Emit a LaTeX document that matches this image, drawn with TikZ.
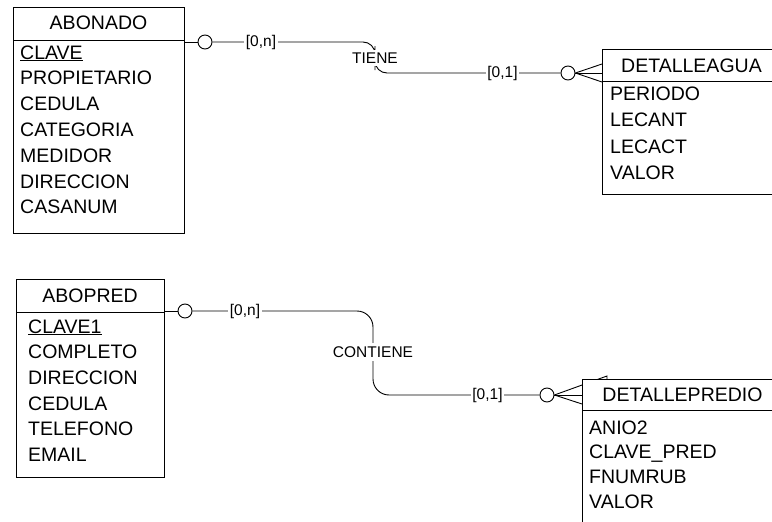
\documentclass[tikz,border=0pt]{standalone}
\usepackage{fontspec}
\setmainfont{Liberation Sans}
\usetikzlibrary{positioning, calc}
\pgfdeclarelayer{bg}
\pgfsetlayers{bg,main}
\tikzset{
	entity/.style={draw, fill=white, line width=0.9pt, anchor=north west, inner sep=0pt},
	ehead/.style={inner sep=0pt, text height=14pt, text depth=0pt, font=\fontsize{19.5}{24}\selectfont},
	attr/.style={ehead, anchor=west},
	opt/.style={draw, circle, fill=white, line width=0.9pt, minimum size=14pt, inner sep=0pt},
	card/.style={fill=white, inner sep=1.5pt, font=\fontsize{15.5}{18}\selectfont},
	rel/.style={card, inner sep=3pt},
	link/.style={line width=0.9pt}
}
\begin{document}
\begin{tikzpicture}[x=1pt, y=-1pt]
	\clip (0,0) rectangle (772,522);
	% entities
	\node[entity, minimum width=171pt, minimum height=226pt] (abonado) at (13,7) {};
	\draw[link] ([yshift=-33pt]abonado.north west) -- ([yshift=-33pt]abonado.north east);
	\node[ehead] (abonadoH) at (98.5,23) {ABONADO};
	\foreach \t [count=\i] in {\underline{CLAVE}, PROPIETARIO, CEDULA, CATEGORIA, MEDIDOR, DIRECCION, CASANUM}
		\node[attr] (abonado-\i) at (20,{52+(\i-1)*25.8}) {\t};

	\node[entity, minimum width=179pt, minimum height=145pt] (detagua) at (602,49) {};
	\draw[link] ([yshift=-32pt]detagua.north west) -- ([yshift=-32pt]detagua.north east);
	\node[ehead] (detaguaH) at (691.5,65) {DETALLEAGUA};
	\foreach \t [count=\i] in {PERIODO, LECANT, LECACT, VALOR}
		\node[attr] (detagua-\i) at (610,{93.5+(\i-1)*26.3}) {\t};

	\node[entity, minimum width=148pt, minimum height=198pt] (abopred) at (16,279) {};
	\draw[link] ([yshift=-33pt]abopred.north west) -- ([yshift=-33pt]abopred.north east);
	\node[ehead] (abopredH) at (90,295) {ABOPRED};
	\foreach \t [count=\i] in {\underline{CLAVE1}, COMPLETO, DIRECCION, CEDULA, TELEFONO, EMAIL}
		\node[attr] (abopred-\i) at (28,{326+(\i-1)*25.7}) {\t};

	\node[entity, minimum width=201pt, minimum height=170pt] (detpredio) at (582,379) {};
	\draw[link] ([yshift=-31pt]detpredio.north west) -- ([yshift=-31pt]detpredio.north east);
	\node[ehead] (detpredioH) at (682.5,394) {DETALLEPREDIO};
	\foreach \t [count=\i] in {ANIO2, CLAVE\_PRED, FNUMRUB, VALOR}
		\node[attr] (detpredio-\i) at (589,{427+(\i-1)*24.8}) {\t};

	% relationship marks and labels
	\node[opt] (oa1) at (205,42) {};
	\node[opt] (oa2) at (568,73) {};
	\node[card] (cardA1) at (261,42) {[0,n]};
	\node[card] (cardA2) at (502.5,73) {[0,1]};
	\node[rel] (tiene) at (375,58) {TIENE};

	\node[opt] (op1) at (185,311) {};
	\node[opt] (op2) at (547,395) {};
	\node[card] (cardP1) at (245,311) {[0,n]};
	\node[card] (cardP2) at (487.5,395) {[0,1]};
	\node[rel, inner sep=4pt] (contiene) at (373,352) {CONTIENE};

	\begin{pgfonlayer}{bg}
		\draw[link] (oa1 -| abonado.east) -- (oa1);
		\draw[link, rounded corners=12pt] (oa1) -| (tiene.center) |- (oa2);
		\draw[link] (oa2.east) -- ([yshift=9pt]oa2.east -| detagua.west);
		\draw[link] (oa2.east) -- (oa2.east -| detagua.west);
		\draw[link] (oa2.east) -- ([yshift=-9pt]oa2.east -| detagua.west);

		\draw[link] (op1 -| abopred.east) -- (op1);
		\draw[link, rounded corners=16pt] (op1) -| (contiene.center) |- (op2);
		\draw[link] (op2.east) -- ([xshift=25pt, yshift=19pt]op2.east -| detpredio.west) -- ++(0,5);
		\draw[link] (op2.east) -- (op2.east -| detpredio.west);
		\draw[link] (op2.east) -- ([yshift=-9pt]op2.east -| detpredio.west);
	\end{pgfonlayer}
\end{tikzpicture}
\end{document}
